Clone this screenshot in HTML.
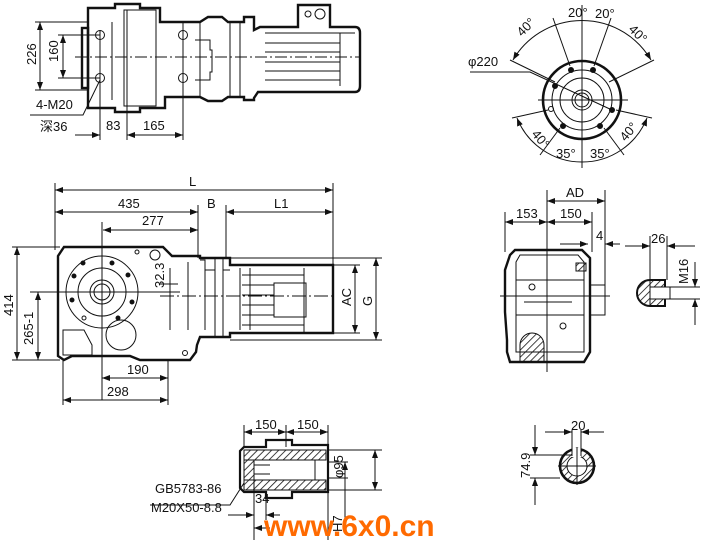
<!DOCTYPE html>
<html><head><meta charset="utf-8"><style>
html,body{margin:0;padding:0;background:#fff;}
svg{display:block;}
text{font-family:"Liberation Sans","Noto Sans CJK SC",sans-serif;font-size:13px;fill:#111;}
</style></head><body>
<svg width="714" height="544" viewBox="0 0 714 544" xmlns="http://www.w3.org/2000/svg">
<defs>
<marker id="a" markerWidth="8" markerHeight="6" refX="8" refY="3" orient="auto-start-reverse" markerUnits="userSpaceOnUse"><path d="M0,0 L8,3 L0,6z" fill="#111"/></marker>
<pattern id="h" width="5" height="5" patternUnits="userSpaceOnUse" patternTransform="rotate(45)"><line x1="0" y1="0" x2="0" y2="5" stroke="#111" stroke-width="1.6"/></pattern>
</defs>
<g stroke="#111" fill="none">
<!-- TOP VIEW -->
<g stroke-width="2.4">
<path d="M88,22 L88,8 L115,8 L115,4 L140,4 L140,8 L160,8 L160,22 L200,22 L208,17 L222,17 L228,22 L244,22 L244,17 L254,17 L254,30 L260,27 L298,27 L298,5 L330,5 L330,27 L355,27 Q360,27 360,33 L360,86 Q360,92 355,92 L258,92 L254,98 L254,100 L244,100 L244,97 L228,97 L222,101 L208,101 L200,97 L165,97 L165,108 L140,108 L140,112 L115,112 L115,108 L88,108 Z"/>
<rect x="82" y="28" width="6" height="60"/>
</g>
<g stroke-width="1">
<rect x="124" y="10" width="32" height="96"/>
<line x1="112" y1="22" x2="112" y2="100"/>
<line x1="183" y1="22" x2="183" y2="97"/>
<line x1="200" y1="22" x2="200" y2="97"/>
<path d="M195,40 L210,40 L210,50 L212,50 L212,72 L210,72 L210,80 L195,80"/>
<line x1="230" y1="22" x2="230" y2="97"/><line x1="240" y1="22" x2="240" y2="97"/>
<line x1="265" y1="33" x2="355" y2="33"/><line x1="265" y1="43" x2="340" y2="43"/><line x1="265" y1="52" x2="340" y2="52"/><line x1="265" y1="62" x2="340" y2="62"/><line x1="265" y1="71" x2="340" y2="71"/><line x1="265" y1="80" x2="340" y2="80"/>
<line x1="340" y1="33" x2="340" y2="86"/>
<circle cx="100" cy="35" r="4.5"/><circle cx="100" cy="78" r="4.5"/><circle cx="183" cy="35" r="4.5"/><circle cx="183" cy="78" r="4.5"/>
<circle cx="308" cy="14" r="3"/><circle cx="320" cy="14" r="5"/>
<line x1="75" y1="57" x2="360" y2="57" stroke-dasharray="12,3,2,3"/>
<line x1="35" y1="22" x2="88" y2="22"/><line x1="35" y1="90" x2="88" y2="90"/>
<line x1="40" y1="22" x2="40" y2="90" marker-start="url(#a)" marker-end="url(#a)"/>
<line x1="58" y1="35" x2="100" y2="35"/><line x1="58" y1="78" x2="100" y2="78"/>
<line x1="63" y1="35" x2="63" y2="78" marker-start="url(#a)" marker-end="url(#a)"/>
<line x1="100" y1="30" x2="100" y2="140"/><line x1="127" y1="10" x2="127" y2="140"/><line x1="183" y1="30" x2="183" y2="140"/>
<line x1="75" y1="135" x2="100" y2="135" marker-end="url(#a)"/><line x1="127" y1="135" x2="140" y2="135" marker-start="url(#a)"/><line x1="127" y1="135" x2="183" y2="135" marker-end="url(#a)"/>
<path d="M100,80 L83,115 L30,115"/>
</g>
<!-- FLANGE VIEW -->
<g stroke-width="1">
<circle cx="582" cy="100" r="39" stroke-width="2.6"/>
<circle cx="582" cy="100" r="30"/>
<circle cx="582" cy="100" r="22"/>
<circle cx="582" cy="100" r="10"/><circle cx="582" cy="100" r="7"/>
<line x1="538" y1="100" x2="628" y2="100"/><line x1="582" y1="5" x2="582" y2="168"/>
<line x1="553" y1="18" x2="570" y2="66"/><line x1="611" y1="18" x2="594" y2="66"/>
<line x1="510" y1="60" x2="555" y2="82"/><line x1="654" y1="60" x2="609" y2="82"/>
<line x1="512" y1="118" x2="548" y2="110"/><line x1="652" y1="118" x2="616" y2="110"/>
<line x1="540" y1="155" x2="560" y2="128"/><line x1="624" y1="155" x2="604" y2="128"/>
<path d="M513,60 A80,80 0 0 1 651,60" marker-start="url(#a)" marker-end="url(#a)"/>
<path d="M517,118 A70,70 0 0 0 647,118" marker-start="url(#a)" marker-end="url(#a)"/>
<path d="M470,72 L530,72 L612,110"/>
<circle cx="571" cy="70" r="2.5" fill="#111"/><circle cx="593" cy="70" r="2.5" fill="#111"/>
<circle cx="555" cy="86" r="2.5" fill="#111"/><circle cx="612" cy="110" r="2.5" fill="#111"/>
<circle cx="551" cy="109" r="2.5"/><circle cx="563" cy="126" r="2.5" fill="#111"/><circle cx="600" cy="126" r="2.5" fill="#111"/>
</g>
<!-- SIDE VIEW -->
<g stroke-width="2.4">
<path d="M58,256 L64,247 L163,247 L172,256 L200,256 L200,258 L230,258 L230,265 L333,265 L333,333 L230,333 L230,337 L200,337 L197,345 L196,352 L190,360 L140,360 L130,356 L72,356 L64,360 L58,356 Z"/>
</g>
<g stroke-width="1">
<path d="M200,260 L205,260 L205,270 L215,270 L215,258 L223,258 L223,270 L230,270" />
<line x1="205" y1="270" x2="205" y2="330"/><line x1="215" y1="260" x2="215" y2="337"/><line x1="223" y1="258" x2="223" y2="337"/>
<line x1="188" y1="262" x2="188" y2="330"/>
<line x1="240" y1="268" x2="240" y2="330"/><line x1="250" y1="268" x2="250" y2="330"/>
<rect x="274" y="283" width="32" height="34"/><line x1="304" y1="268" x2="304" y2="333"/>
<line x1="242" y1="275" x2="304" y2="275"/><line x1="242" y1="285" x2="274" y2="285"/><line x1="242" y1="295" x2="274" y2="295"/><line x1="242" y1="305" x2="274" y2="305"/><line x1="242" y1="315" x2="274" y2="315"/><line x1="242" y1="325" x2="304" y2="325"/>
<circle cx="102" cy="292" r="36"/><circle cx="102" cy="292" r="24"/><circle cx="102" cy="292" r="12"/><circle cx="102" cy="292" r="8"/>
<circle cx="121" cy="335" r="15"/>
<circle cx="155" cy="255" r="5"/><circle cx="137" cy="252" r="2"/><circle cx="185" cy="353" r="2.5"/>
<path d="M63,330 L84,330 L92,345 L92,355 L63,355 Z"/>
<circle cx="83" cy="263" r="2" fill="#111"/><circle cx="112" cy="263" r="2" fill="#111"/><circle cx="74" cy="276" r="2" fill="#111"/><circle cx="128" cy="275" r="2" fill="#111"/><circle cx="72" cy="300" r="2" fill="#111"/><circle cx="132" cy="302" r="2" fill="#111"/><circle cx="84" cy="318" r="2"/><circle cx="118" cy="318" r="2" fill="#111"/>
<line x1="30" y1="292" x2="180" y2="292"/><line x1="102" y1="222" x2="102" y2="400"/>
<line x1="160" y1="296" x2="335" y2="296" stroke-dasharray="14,3,2,3"/>
<line x1="55" y1="183" x2="55" y2="250"/><line x1="333" y1="183" x2="333" y2="265"/>
<line x1="198" y1="205" x2="198" y2="258"/><line x1="226" y1="205" x2="226" y2="258"/>
<line x1="55" y1="190" x2="333" y2="190" marker-start="url(#a)" marker-end="url(#a)"/>
<line x1="55" y1="212" x2="198" y2="212" marker-start="url(#a)" marker-end="url(#a)"/>
<line x1="226" y1="212" x2="333" y2="212" marker-start="url(#a)" marker-end="url(#a)"/>
<line x1="103" y1="230" x2="198" y2="230" marker-start="url(#a)" marker-end="url(#a)"/>
<line x1="12" y1="247" x2="60" y2="247"/><line x1="12" y1="360" x2="60" y2="360"/>
<line x1="17" y1="247" x2="17" y2="360" marker-start="url(#a)" marker-end="url(#a)"/>
<line x1="38" y1="292" x2="38" y2="360" marker-start="url(#a)" marker-end="url(#a)"/>
<line x1="333" y1="265" x2="360" y2="265"/><line x1="333" y1="333" x2="360" y2="333"/>
<line x1="230" y1="258" x2="382" y2="258"/><line x1="230" y1="340" x2="382" y2="340"/>
<line x1="355" y1="265" x2="355" y2="333" marker-start="url(#a)" marker-end="url(#a)"/>
<line x1="376" y1="258" x2="376" y2="340" marker-start="url(#a)" marker-end="url(#a)"/>
<line x1="170" y1="268" x2="170" y2="330"/><line x1="160" y1="284" x2="178" y2="284"/>
<line x1="168" y1="360" x2="168" y2="405"/><line x1="63" y1="360" x2="63" y2="405"/>
<line x1="102" y1="378" x2="168" y2="378" marker-start="url(#a)" marker-end="url(#a)"/>
<line x1="63" y1="400" x2="168" y2="400" marker-start="url(#a)" marker-end="url(#a)"/>
</g>
<!-- END VIEW -->
<g stroke-width="2.4">
<path d="M515,250 L582,250 L590,258 L590,352 L584,362 L510,362 L507,352 L507,340 L505,312 L505,270 L510,255 Z"/>
</g>
<g stroke-width="1">
<path d="M516,262 L520,255 L578,255 L584,262 L584,352 L516,352 Z"/>
<line x1="516" y1="280" x2="584" y2="280"/><line x1="516" y1="315" x2="584" y2="315"/>
<line x1="524" y1="302" x2="572" y2="302"/>
<rect x="590" y="285" width="15" height="30"/>
<path d="M520,345 a12,12 0 0 1 24,0 L544,362 L520,362 Z" fill="url(#h)"/>
<circle cx="532" cy="287" r="3"/><circle cx="563" cy="326" r="3"/>
<rect x="576" y="263" width="10" height="8" fill="url(#h)"/>
<line x1="547" y1="190" x2="547" y2="372"/><line x1="500" y1="296" x2="610" y2="296"/>
<line x1="505" y1="212" x2="505" y2="252"/><line x1="592" y1="212" x2="592" y2="252"/><line x1="605" y1="190" x2="605" y2="315"/>
<line x1="547" y1="201" x2="605" y2="201" marker-start="url(#a)" marker-end="url(#a)"/>
<line x1="505" y1="222" x2="547" y2="222" marker-start="url(#a)" marker-end="url(#a)"/>
<line x1="547" y1="222" x2="592" y2="222" marker-start="url(#a)" marker-end="url(#a)"/>
<line x1="560" y1="244" x2="588" y2="244" marker-end="url(#a)"/><line x1="605" y1="244" x2="620" y2="244" marker-start="url(#a)"/>
<path d="M650,280 L665,280 L665,306 L650,306 A13,13 0 0 1 650,280 Z" fill="url(#h)" stroke-width="2"/>
<rect x="650" y="287" width="20" height="12" fill="#fff"/>
<line x1="650" y1="236" x2="650" y2="306"/><line x1="667" y1="236" x2="667" y2="280"/>
<line x1="625" y1="246" x2="650" y2="246" marker-end="url(#a)"/><line x1="667" y1="246" x2="695" y2="246" marker-start="url(#a)"/>
<line x1="665" y1="287" x2="700" y2="287"/><line x1="665" y1="299" x2="700" y2="299"/>
<line x1="695" y1="262" x2="695" y2="287" marker-end="url(#a)"/><line x1="695" y1="299" x2="695" y2="325" marker-start="url(#a)"/>
</g>
<!-- HOLLOW SHAFT -->
<g stroke-width="1">
<path d="M244,447 L266,447 L266,440 L292,440 L292,445 L328,445 L328,492 L292,492 L292,498 L266,498 L266,492 L244,492 L240,488 L240,451 Z" stroke-width="2.2"/>
<rect x="244" y="450" width="82" height="10" fill="url(#h)"/>
<rect x="244" y="480" width="82" height="10" fill="url(#h)"/>
<rect x="244" y="460" width="10" height="20" fill="url(#h)"/>
<line x1="254" y1="465" x2="270" y2="465"/><line x1="254" y1="474" x2="270" y2="474"/>
<line x1="315" y1="460" x2="315" y2="480"/>
<line x1="244" y1="425" x2="244" y2="447"/><line x1="286" y1="425" x2="286" y2="447"/><line x1="328" y1="425" x2="328" y2="540"/>
<line x1="244" y1="432" x2="286" y2="432" marker-start="url(#a)" marker-end="url(#a)"/>
<line x1="286" y1="432" x2="328" y2="432" marker-start="url(#a)" marker-end="url(#a)"/>
<line x1="328" y1="450" x2="382" y2="450"/><line x1="328" y1="490" x2="382" y2="490"/>
<line x1="375" y1="450" x2="375" y2="490" marker-start="url(#a)" marker-end="url(#a)"/>
<line x1="328" y1="462" x2="348" y2="462"/><line x1="328" y1="478" x2="348" y2="478"/>
<line x1="345" y1="462" x2="345" y2="530" marker-start="url(#a)"/>
<path d="M244,483 L230,505 L150,505"/>
<line x1="254" y1="480" x2="254" y2="540"/><line x1="266" y1="498" x2="266" y2="520"/>
<line x1="228" y1="515" x2="254" y2="515" marker-end="url(#a)"/><line x1="266" y1="515" x2="280" y2="515" marker-start="url(#a)"/>
<line x1="254" y1="528" x2="270" y2="528" marker-start="url(#a)"/>
</g>
<!-- SMALL SECTION -->
<g stroke-width="1">
<circle cx="577" cy="466" r="17" fill="url(#h)" stroke-width="2.6"/>
<circle cx="577" cy="466" r="10" fill="#fff"/>
<rect x="572" y="448" width="9" height="9" fill="#fff" stroke="none"/>
<line x1="572" y1="430" x2="572" y2="456"/><line x1="581" y1="430" x2="581" y2="456"/>
<line x1="545" y1="432" x2="572" y2="432" marker-end="url(#a)"/><line x1="581" y1="432" x2="604" y2="432" marker-start="url(#a)"/>
<line x1="530" y1="455" x2="572" y2="455"/><line x1="530" y1="478" x2="560" y2="478"/>
<line x1="535" y1="425" x2="535" y2="455" marker-end="url(#a)"/><line x1="535" y1="478" x2="535" y2="505" marker-start="url(#a)"/>
<line x1="558" y1="466" x2="596" y2="466"/><line x1="577" y1="447" x2="577" y2="485"/>
</g>
</g>
<!-- TEXT -->
<text x="36" y="65" transform="rotate(-90 36 65)">226</text>
<text x="58" y="62" transform="rotate(-90 58 62)">160</text>
<text x="36" y="109">4-M20</text>
<text x="40" y="131">深36</text>
<text x="106" y="130">83</text>
<text x="143" y="130">165</text>
<text x="568" y="17" font-size="12">20°</text>
<text x="595" y="18" font-size="12">20°</text>
<text x="517" y="35" font-size="12" transform="rotate(-45 522 30)">40°</text>
<text x="630" y="35" font-size="12" transform="rotate(45 635 30)">40°</text>
<text x="468" y="66" font-size="12">φ220</text>
<text x="533" y="140" font-size="12" transform="rotate(50 538 135)">40°</text>
<text x="620" y="140" font-size="12" transform="rotate(-50 625 135)">40°</text>
<text x="556" y="158" font-size="12">35°</text>
<text x="590" y="158" font-size="12">35°</text>
<text x="189" y="186">L</text>
<text x="118" y="208">435</text>
<text x="207" y="208">B</text>
<text x="274" y="208">L1</text>
<text x="142" y="225">277</text>
<text x="164" y="288" transform="rotate(-90 164 288)">32.3</text>
<text x="13" y="316" transform="rotate(-90 13 316)">414</text>
<text x="33" y="345" transform="rotate(-90 33 345)">265-1</text>
<text x="127" y="374">190</text>
<text x="107" y="396">298</text>
<text x="351" y="306" transform="rotate(-90 351 306)">AC</text>
<text x="372" y="306" transform="rotate(-90 372 306)">G</text>
<text x="566" y="197">AD</text>
<text x="516" y="218">153</text>
<text x="560" y="218">150</text>
<text x="596" y="240">4</text>
<text x="651" y="243">26</text>
<text x="688" y="284" transform="rotate(-90 688 284)">M16</text>
<text x="255" y="429">150</text>
<text x="297" y="429">150</text>
<text x="343" y="478" transform="rotate(-90 343 478)">φ95</text>
<text x="155" y="493">GB5783-86</text>
<text x="151" y="512">M20X50-8.8</text>
<text x="255" y="503">34</text>
<text x="342" y="532" transform="rotate(-90 342 532)">H7</text>
<text x="571" y="430">20</text>
<text x="530" y="478" transform="rotate(-90 530 478)">74.9</text>
<text x="264" y="536" style="font-size:30px;font-weight:bold;fill:#ff6a00;">www.6x0.cn</text>
</svg>
</body></html>
